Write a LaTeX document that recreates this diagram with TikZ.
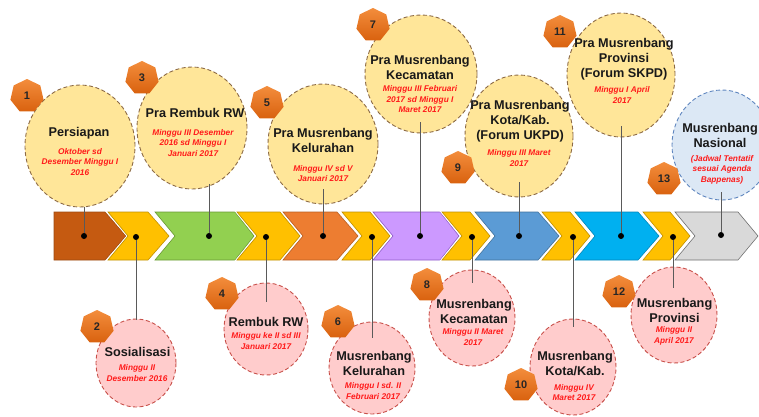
\documentclass[tikz,border=0pt]{standalone}
\usepackage{fontspec}
\setmainfont{Liberation Sans}
\usetikzlibrary{shapes.geometric}
\definecolor{cBrown}{HTML}{C55A11}\definecolor{cBrownE}{HTML}{9C4A12}
\definecolor{cYel}{HTML}{FFC000}\definecolor{cYelE}{HTML}{BF9000}
\definecolor{cGreen}{HTML}{92D050}\definecolor{cGreenE}{HTML}{6A9A35}
\definecolor{cOrange}{HTML}{ED7D31}\definecolor{cOrangeE}{HTML}{B85E22}
\definecolor{cPurple}{HTML}{CC99FF}\definecolor{cPurpleE}{HTML}{8E5BC7}
\definecolor{cBlue}{HTML}{5B9BD5}\definecolor{cBlueE}{HTML}{41719C}
\definecolor{cCyan}{HTML}{00B0F0}\definecolor{cCyanE}{HTML}{0085B8}
\definecolor{cGray}{HTML}{D9D9D9}\definecolor{cGrayE}{HTML}{707070}
\definecolor{topfill}{HTML}{FFE699}\definecolor{topedge}{HTML}{8C6A45}
\definecolor{botfill}{HTML}{FFCCCC}\definecolor{botedge}{HTML}{C8504A}
\definecolor{natfill}{HTML}{DCE8F5}\definecolor{natedge}{HTML}{5F86BF}
\definecolor{hexlight}{HTML}{F38D3C}\definecolor{hexdark}{HTML}{D9620F}
\definecolor{subred}{HTML}{FF1A1A}\definecolor{linegray}{HTML}{5A5A5A}
\tikzset{
  ell/.style={ellipse, inner sep=0pt, line width=0.9pt, dash pattern=on 4pt off 2.5pt},
  topc/.style={ell, draw=topedge, fill=topfill},
  botc/.style={ell, draw=botedge, fill=botfill},
  natc/.style={ell, draw=natedge, fill=natfill},
  numhex/.style={regular polygon, regular polygon sides=7, minimum size=34pt, inner sep=0pt,
    top color=hexlight, bottom color=hexdark, draw=none,
    font=\bfseries\fontsize{11}{12}\selectfont, text=black!85},
  dotn/.style={circle, fill=black, inner sep=0pt, minimum size=6pt},
  conn/.style={draw=linegray, line width=0.8pt},
  ttl/.style={align=center, inner sep=0pt, font=\bfseries\fontsize{12.7}{15}\selectfont, text=black!90},
  subt/.style={align=center, inner sep=0pt, font=\bfseries\itshape\fontsize{8.3}{10.5}\selectfont, text=subred},
}
\newcommand\chev[5]{% L, Rtop, tip, fill, edge
  \path[draw=white, line width=2.5pt, line join=miter] (#1,212) -- (#2,212) -- (#3,236) -- (#2,260) -- (#1,260) -- ({#1+20},236) -- cycle;
  \path[fill=#4, draw=#5, line width=0.6pt] (#1,212) -- (#2,212) -- (#3,236) -- (#2,260) -- (#1,260) -- ({#1+20},236) -- cycle;}
\begin{document}
\begin{tikzpicture}[x=1pt,y=-1pt]
\useasboundingbox (0,0) rectangle (759,416);
% chevron band
\path[draw=white, line width=2.5pt] (54,212) -- (105,212) -- (126,236) -- (105,260) -- (54,260) -- cycle;
\path[fill=cBrown, draw=cBrownE, line width=0.6pt] (54,212) -- (105,212) -- (126,236) -- (105,260) -- (54,260) -- cycle;
\chev{108}{148}{169}{cYel}{cYelE}
\chev{155}{235}{254}{cGreen}{cGreenE}
\chev{237}{280}{300}{cYel}{cYelE}
\chev{283}{337}{358}{cOrange}{cOrangeE}
\chev{342}{370}{390}{cYel}{cYelE}
\chev{373}{440}{459}{cPurple}{cPurpleE}
\chev{442}{470}{490}{cYel}{cYelE}
\chev{475}{538}{559}{cBlue}{cBlueE}
\chev{542}{570}{590}{cYel}{cYelE}
\chev{575}{638}{659}{cCyan}{cCyanE}
\chev{643}{670}{690}{cYel}{cYelE}
\chev{675}{738}{758}{cGray}{cGrayE}
% circles
\node[topc, minimum width=110pt, minimum height=122pt] (c1) at (80,146) {};
\node[topc, minimum width=110pt, minimum height=122pt] (c3) at (192,128) {};
\node[topc, minimum width=110pt, minimum height=120pt] (c5) at (323,144) {};
\node[topc, minimum width=112pt, minimum height=118pt] (c7) at (421,74) {};
\node[topc, minimum width=108pt, minimum height=122pt] (c9) at (519,136) {};
\node[topc, minimum width=108pt, minimum height=124pt] (c11) at (621,75) {};
\node[natc, minimum width=100pt, minimum height=110pt] (c13) at (722,145) {};
\node[botc, minimum width=80pt, minimum height=88pt] (c2) at (136,363) {};
\node[botc, minimum width=84pt, minimum height=92pt] (c4) at (266,329) {};
\node[botc, minimum width=86pt, minimum height=92pt] (c6) at (372,368) {};
\node[botc, minimum width=86pt, minimum height=96pt] (c8) at (472,318) {};
\node[botc, minimum width=86pt, minimum height=96pt] (c10) at (573,367) {};
\node[botc, minimum width=86pt, minimum height=96pt] (c12) at (674,315) {};
% dots
\node[dotn] (d1) at (84,236) {};
\node[dotn] (d2) at (136,237) {};
\node[dotn] (d3) at (209,236) {};
\node[dotn] (d4) at (266,237) {};
\node[dotn] (d5) at (323,236) {};
\node[dotn] (d6) at (372,237) {};
\node[dotn] (d7) at (420,236) {};
\node[dotn] (d8) at (472,237) {};
\node[dotn] (d9) at (519,236) {};
\node[dotn] (d10) at (573,237) {};
\node[dotn] (d11) at (621,236) {};
\node[dotn] (d12) at (673,237) {};
\node[dotn] (d13) at (721,235) {};
% connector ends
\coordinate (e1) at (84,207);
\coordinate (e3) at (209,184);
\coordinate (e5) at (323,189);
\coordinate (e7) at (420,122);
\coordinate (e9) at (519,182);
\coordinate (e11) at (621,126);
\coordinate (e13) at (721,192);
\coordinate (e2) at (136,320);
\coordinate (e4) at (266,302);
\coordinate (e6) at (372,338);
\coordinate (e8) at (472,283);
\coordinate (e10) at (573,327);
\coordinate (e12) at (673,288);
\foreach \i in {1,...,13} {\draw[conn] (d\i) -- (e\i);}
% texts
\node[ttl] (t1) at (79,133) {Persiapan};
\node[subt] (s1) at (80,162) {Oktober sd\\Desember Minggu I\\2016};
\node[ttl] (t3) at (195,113) {Pra Rembuk RW};
\node[subt] (s3) at (193,143) {Minggu III Desember\\2016 sd Minggu I\\Januari 2017};
\node[ttl] (t5) at (323,140.5) {Pra Musrenbang\\Kelurahan};
\node[subt] (s5) at (323,173.5) {Minggu IV sd V\\Januari 2017};
\node[ttl] (t7) at (420,67.5) {Pra Musrenbang\\Kecamatan};
\node[subt] (s7) at (420,99.5) {Minggu III Februari\\2017 sd Minggu I\\Maret 2017};
\node[ttl] (t9) at (520,121.5) {Pra Musrenbang\\Kota/Kab.\\(Forum UKPD)};
\node[subt] (s9) at (519,158) {Minggu III Maret\\2017};
\node[ttl] (t11) at (624,59) {Pra Musrenbang\\Provinsi\\(Forum SKPD)};
\node[subt] (s11) at (622,95) {Minggu I April\\2017};
\node[ttl] (t13) at (720,135.5) {Musrenbang\\Nasional};
\node[subt] (s13) at (722,169.5) {(Jadwal Tentatif\\sesuai Agenda\\Bappenas)};
\node[ttl] (t2) at (137.5,352) {Sosialisasi};
\node[subt] (s2) at (137,373) {Minggu II\\Desember 2016};
\node[ttl] (t4) at (266,322) {Rembuk RW};
\node[subt] (s4) at (266,341) {Minggu ke II sd III\\Januari 2017};
\node[ttl] (t6) at (374,363) {Musrenbang\\Kelurahan};
\node[subt] (s6) at (373,391) {Minggu I sd. II\\Februari 2017};
\node[ttl] (t8) at (474,311.5) {Musrenbang\\Kecamatan};
\node[subt] (s8) at (473,337) {Minggu II Maret\\2017};
\node[ttl] (t10) at (575,364) {Musrenbang\\Kota/Kab.};
\node[subt] (s10) at (574,392.5) {Minggu IV\\Maret 2017};
\node[ttl] (t12) at (674.5,310) {Musrenbang\\Provinsi};
\node[subt] (s12) at (674,336) {Minggu II\\April 2017};
% number badges
\node[numhex] (h1) at (27,96) {1};
\node[numhex] (h3) at (142,78) {3};
\node[numhex] (h5) at (267,103) {5};
\node[numhex] (h7) at (373,25) {7};
\node[numhex] (h9) at (458,168) {9};
\node[numhex] (h11) at (560,32) {11};
\node[numhex] (h13) at (664,179) {13};
\node[numhex] (h2) at (97,327) {2};
\node[numhex] (h4) at (222,294) {4};
\node[numhex] (h6) at (338,322) {6};
\node[numhex] (h8) at (427,285) {8};
\node[numhex] (h10) at (521,385) {10};
\node[numhex] (h12) at (619,292) {12};
\end{tikzpicture}
\end{document}
